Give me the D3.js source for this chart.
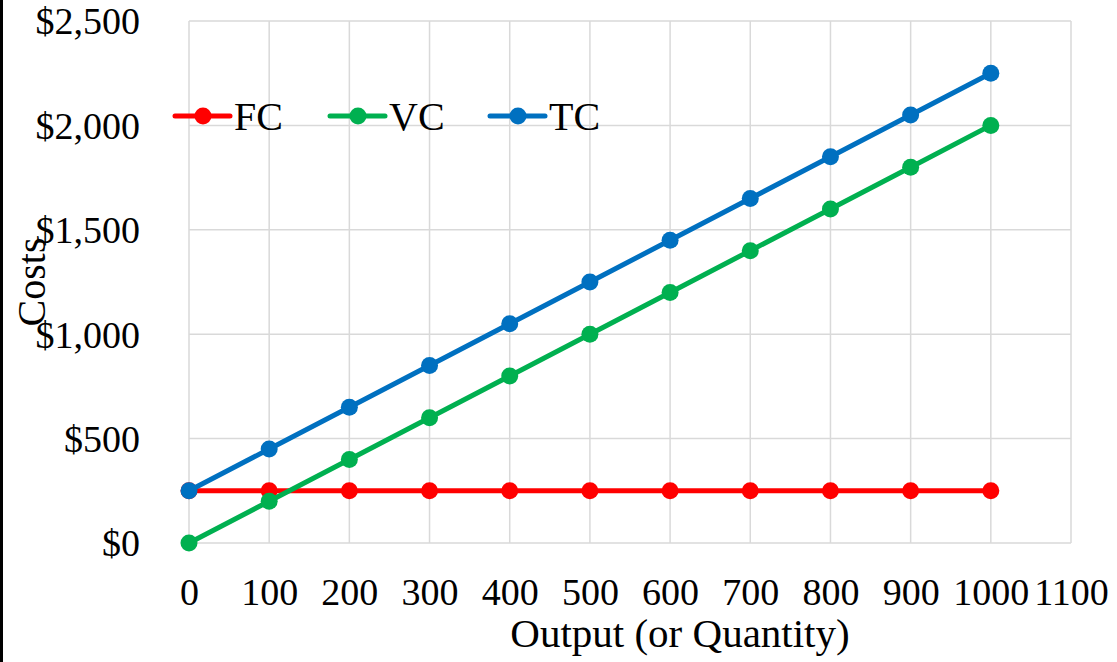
<!DOCTYPE html>
<html>
<head>
<meta charset="utf-8">
<script src="https://d3js.org/d3.v7.min.js"></script>
<style>
  body { margin: 0; background: #fff; }
  svg text { font-family: "Liberation Serif", "DejaVu Serif", serif; fill: #000; }
</style>
</head>
<body>
<div id="chart"></div>
<script>
// data
var output = [0, 100, 200, 300, 400, 500, 600, 700, 800, 900, 1000];
var fc = [250, 250, 250, 250, 250, 250, 250, 250, 250, 250, 250];
var vc = [0, 200, 400, 600, 800, 1000, 1200, 1400, 1600, 1800, 2000];
var tc = [250, 450, 650, 850, 1050, 1250, 1450, 1650, 1850, 2050, 2250];
var xTicks = [0, 100, 200, 300, 400, 500, 600, 700, 800, 900, 1000, 1100];
var yTicks = [0, 500, 1000, 1500, 2000, 2500];

var series = [
  { name: "FC", values: fc, color: "#ff0000" },
  { name: "VC", values: vc, color: "#00b050" },
  { name: "TC", values: tc, color: "#0070c0" }
];

var W = 1117, H = 662;
var svg = d3.select("#chart").append("svg")
    .attr("width", W)
    .attr("height", H);

// black strip on the left edge
svg.append("rect").attr("x", 0).attr("y", 0).attr("width", 3).attr("height", H).attr("fill", "#000");

var x = d3.scaleLinear().domain([0, 1100]).range([189, 1071]);
var y = d3.scaleLinear().domain([0, 2500]).range([543, 21]);

// grid
svg.append("g").selectAll("line.v")
    .data(xTicks).enter().append("line")
    .attr("x1", d => x(d)).attr("x2", d => x(d))
    .attr("y1", y(0)).attr("y2", y(2500))
    .attr("stroke", "#d9d9d9").attr("stroke-width", 1.5);
svg.append("g").selectAll("line.h")
    .data(yTicks).enter().append("line")
    .attr("x1", x(0)).attr("x2", x(1100))
    .attr("y1", d => y(d)).attr("y2", d => y(d))
    .attr("stroke", "#d9d9d9").attr("stroke-width", 1.5);

// axes (labels only)
var yAxis = svg.append("g")
    .attr("transform", "translate(" + x(0) + ",0)")
    .call(d3.axisLeft(y).tickValues(yTicks).tickSize(0).tickPadding(49)
        .tickFormat(d => "$" + d3.format(",")(d)));
yAxis.select(".domain").remove();
yAxis.selectAll("text").style("font-size", "38px").attr("font-family", null).attr("dy", "0.34em");

var xAxis = svg.append("g")
    .attr("transform", "translate(0," + y(0) + ")")
    .call(d3.axisBottom(x).tickValues(xTicks).tickSize(0).tickPadding(0).tickFormat(d3.format("d")));
xAxis.select(".domain").remove();
xAxis.selectAll("text").style("font-size", "38px").attr("font-family", null)
    .attr("y", 62).attr("dy", null);

// axis titles
svg.append("text")
    .attr("transform", "translate(45,282) rotate(-90)")
    .attr("text-anchor", "middle")
    .style("font-size", "40px")
    .text("Costs");
svg.append("text")
    .attr("x", 680).attr("y", 647)
    .attr("text-anchor", "middle")
    .style("font-size", "41px")
    .text("Output (or Quantity)");

// lines and markers
var line = d3.line().x((d, i) => x(output[i])).y(d => y(d));
series.forEach(function (s) {
    var g = svg.append("g");
    g.append("path")
        .datum(s.values)
        .attr("d", line)
        .attr("fill", "none")
        .attr("stroke", s.color)
        .attr("stroke-width", 5)
        .attr("stroke-linecap", "round");
    g.selectAll("circle")
        .data(s.values).enter().append("circle")
        .attr("cx", (d, i) => x(output[i]))
        .attr("cy", d => y(d))
        .attr("r", 8.5)
        .attr("fill", s.color);
});

// legend
var legendX = [175, 330, 490];
series.forEach(function (s, i) {
    var lg = svg.append("g").attr("transform", "translate(" + legendX[i] + ",116)");
    lg.append("line").attr("x1", 0).attr("x2", 55).attr("y1", 0).attr("y2", 0)
        .attr("stroke", s.color).attr("stroke-width", 5).attr("stroke-linecap", "round");
    lg.append("circle").attr("cx", 28).attr("cy", 0).attr("r", 8.5).attr("fill", s.color);
    lg.append("text").attr("x", 59).attr("y", 0).attr("dy", "0.34em")
        .style("font-size", "40px").text(s.name);
});
</script>
</body>
</html>
